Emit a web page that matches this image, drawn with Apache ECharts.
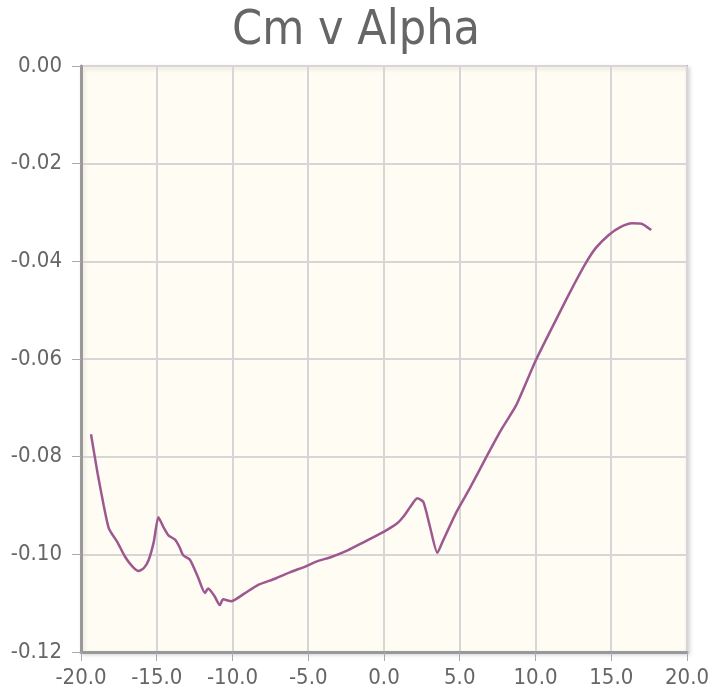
<!DOCTYPE html>
<html>
<head>
<meta charset="utf-8">
<script src="https://cdn.jsdelivr.net/npm/echarts@6/dist/echarts.min.js"></script>
<style>
  html, body { margin: 0; padding: 0; background: #fff; }
  #chart { width: 712px; height: 694px; }
</style>
</head>
<body>
<div id="chart"></div>
<script>
// angle of attack (deg) and pitching moment coefficient
const alpha = [-19.34, -18.9, -18.5, -18.16, -17.6, -17.07, -16.6, -16.2, -15.85, -15.54, -15.2, -14.89,
  -14.55, -14.23, -13.79, -13.5, -13.25, -12.81, -12.3, -11.82, -11.61, -11.2, -10.84, -10.62, -10.08,
  -9.2, -8.33, -7.2, -6.14, -5.2, -4.39, -3.52, -2.4, -1.33, -0.02, 0.85, 1.3, 1.73, 2.2, 2.6, 3.04,
  3.52, 3.91, 4.79, 5.66, 6.75, 7.41, 7.85, 8.72, 10.03, 11.56, 12.5, 13.31, 14.0, 14.84, 15.6, 16.37,
  17.0, 17.64];
const cm = [-0.0754, -0.0835, -0.0900, -0.0947, -0.0975, -0.1006, -0.1025, -0.1034, -0.1028, -0.1012, -0.0975, -0.0924,
  -0.0945, -0.0961, -0.0970, -0.0985, -0.1002, -0.1011, -0.1045, -0.1079, -0.1070, -0.1085, -0.1104, -0.1092, -0.1096,
  -0.1080, -0.1063, -0.1050, -0.1036, -0.1025, -0.1014, -0.1006, -0.0992, -0.0975, -0.0954, -0.0937, -0.0922, -0.0903, -0.0885, -0.0893, -0.0944,
  -0.0997, -0.0971, -0.0913, -0.0865, -0.0801, -0.0763, -0.0739, -0.0695, -0.0602, -0.0507, -0.0450, -0.0404, -0.0372, -0.0346, -0.0330, -0.0322,
  -0.0323, -0.0336];

const xTicks = { min: -20, max: 20, interval: 5 };
const yTicks = { min: -0.12, max: 0, interval: 0.02 };

const points = alpha.map((a, i) => [a, cm[i]]);

const myChart = echarts.init(document.getElementById("chart"));
const labelStyle = {
  color: "#666",
  fontSize: 22,
  fontFamily: "DejaVu Sans Condensed",
};
const option = {
  animation: false,
  title: {
    text: "Cm v Alpha",
    left: "center",
    top: 3,
    textStyle: {
      color: "#666",
      fontSize: 48,
      fontWeight: "normal",
      fontFamily: "DejaVu Sans Condensed",
    },
  },
  grid: {
    left: 81,
    right: 22,
    top: 66,
    bottom: 42,
    show: true,
    backgroundColor: "#fffcf4",
    borderColor: "#aaa",
    borderWidth: 2,
    shadowColor: "rgba(0,0,0,0.15)",
    shadowBlur: 4,
    shadowOffsetX: 2,
    shadowOffsetY: 2,
  },
  xAxis: {
    type: "value",
    min: xTicks.min,
    max: xTicks.max,
    interval: xTicks.interval,
    axisLine: { onZero: false, lineStyle: { color: "#999", width: 3 } },
    axisTick: { show: true, length: 9, lineStyle: { color: "#aaa", width: 1 } },
    axisLabel: Object.assign({ margin: 15, formatter: (v) => v.toFixed(1) }, labelStyle),
    splitLine: { lineStyle: { color: "#d6d6d6", width: 2 } },
  },
  yAxis: {
    type: "value",
    min: yTicks.min,
    max: yTicks.max,
    interval: yTicks.interval,
    axisLine: { show: true, onZero: false, lineStyle: { color: "#999", width: 3 } },
    axisTick: { show: true, length: 9, lineStyle: { color: "#aaa", width: 1 } },
    axisLabel: Object.assign({ margin: 19, formatter: (v) => v.toFixed(2) }, labelStyle),
    splitLine: { lineStyle: { color: "#d6d6d6", width: 2 } },
  },
  series: [
    {
      name: "Cm",
      type: "line",
      data: points,
      smooth: 0.2,
      showSymbol: false,
      lineStyle: { color: "#9e5890", width: 2.5 },
    },
  ],
};
myChart.setOption(option);
</script>
</body>
</html>
